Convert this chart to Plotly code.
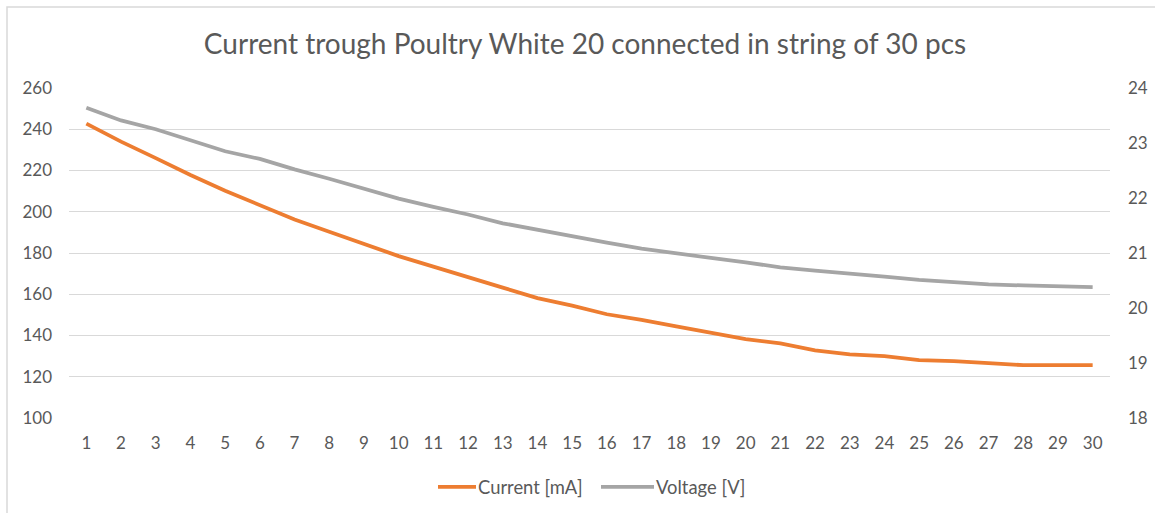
import plotly.graph_objects as go

strings = list(range(1, 31))
current_ma = [242.7, 234, 226, 217.8, 210.2, 203.2, 196.2, 190.3, 184.2, 178.5,
              173.4, 168.5, 163.2, 158.1, 154.5, 150.3, 147.6, 144.4, 141.4, 138.2,
              136.2, 132.8, 130.8, 130.0, 128.1, 127.6, 126.6, 125.6, 125.6, 125.6]
voltage_v = [23.64, 23.41, 23.25, 23.05, 22.85, 22.71, 22.52, 22.35, 22.17, 21.99,
             21.84, 21.70, 21.54, 21.42, 21.31, 21.19, 21.08, 20.99, 20.91, 20.83,
             20.74, 20.68, 20.63, 20.57, 20.51, 20.47, 20.43, 20.41, 20.40, 20.38]
title_text = "Current trough Poultry White 20 connected in string of 30 pcs"

FONT = "Lato, Calibri, Carlito, sans-serif"
TXT = "#595959"

fig = go.Figure()
fig.add_trace(go.Scatter(x=strings, y=current_ma, name="Current [mA]", mode="lines",
                         line=dict(color="#ED7D31", width=3.8), yaxis="y"))
fig.add_trace(go.Scatter(x=strings, y=voltage_v, name="Voltage [V]", mode="lines",
                         line=dict(color="#A5A5A5", width=3.8), yaxis="y2"))

fig.update_layout(
    width=1155, height=513,
    margin=dict(l=69, r=45, t=88, b=95, autoexpand=False),
    paper_bgcolor="white", plot_bgcolor="white",
    font=dict(family=FONT, size=17, color=TXT),
    title=dict(text=title_text, x=585 / 1155, xanchor="center", xref="container",
               y=1 - 44 / 513, yanchor="middle", yref="container",
               font=dict(family=FONT, size=28, color=TXT)),
    xaxis=dict(range=[0.5, 30.5], tickmode="linear", tick0=1, dtick=1,
               showgrid=False, zeroline=False, showline=False, ticks="",
               automargin=False,
               tickfont=dict(size=17, color=TXT), ticklabelstandoff=13),
    yaxis=dict(range=[100, 260], dtick=20, showgrid=True, gridcolor="#d9d9d9",
               gridwidth=1, zeroline=False, showline=False, ticks="",
               automargin=False,
               tickfont=dict(size=17, color=TXT), ticklabelstandoff=16),
    yaxis2=dict(range=[18, 24], dtick=1, overlaying="y", side="right",
                showgrid=False, zeroline=False, showline=False, ticks="",
                automargin=False,
                tickfont=dict(size=17, color=TXT), ticklabelstandoff=17),
    legend=dict(orientation="h", x=438 / 1155, xref="container", xanchor="left",
                y=1 - 487 / 513, yref="container", yanchor="middle",
                font=dict(size=18.4, color=TXT), bgcolor="rgba(0,0,0,0)",
                entrywidth=133, entrywidthmode="pixels", tracegroupgap=0),
    showlegend=True,
    shapes=[dict(type="rect", xref="paper", yref="paper",
                 x0=(7 - 69) / 1041, x1=1.2, y0=-0.6, y1=1 + (88 - 7) / 330,
                 line=dict(color="#d9d9d9", width=1.5), fillcolor="rgba(0,0,0,0)",
                 layer="below")],
)

post = """
document.body.style.margin='0';document.body.style.padding='0';
document.querySelectorAll('.legendlines path').forEach(function(p){p.setAttribute('d','M-15,0h53');});
"""
fig.write_html("out.html", config={"displayModeBar": False}, post_script=post)
